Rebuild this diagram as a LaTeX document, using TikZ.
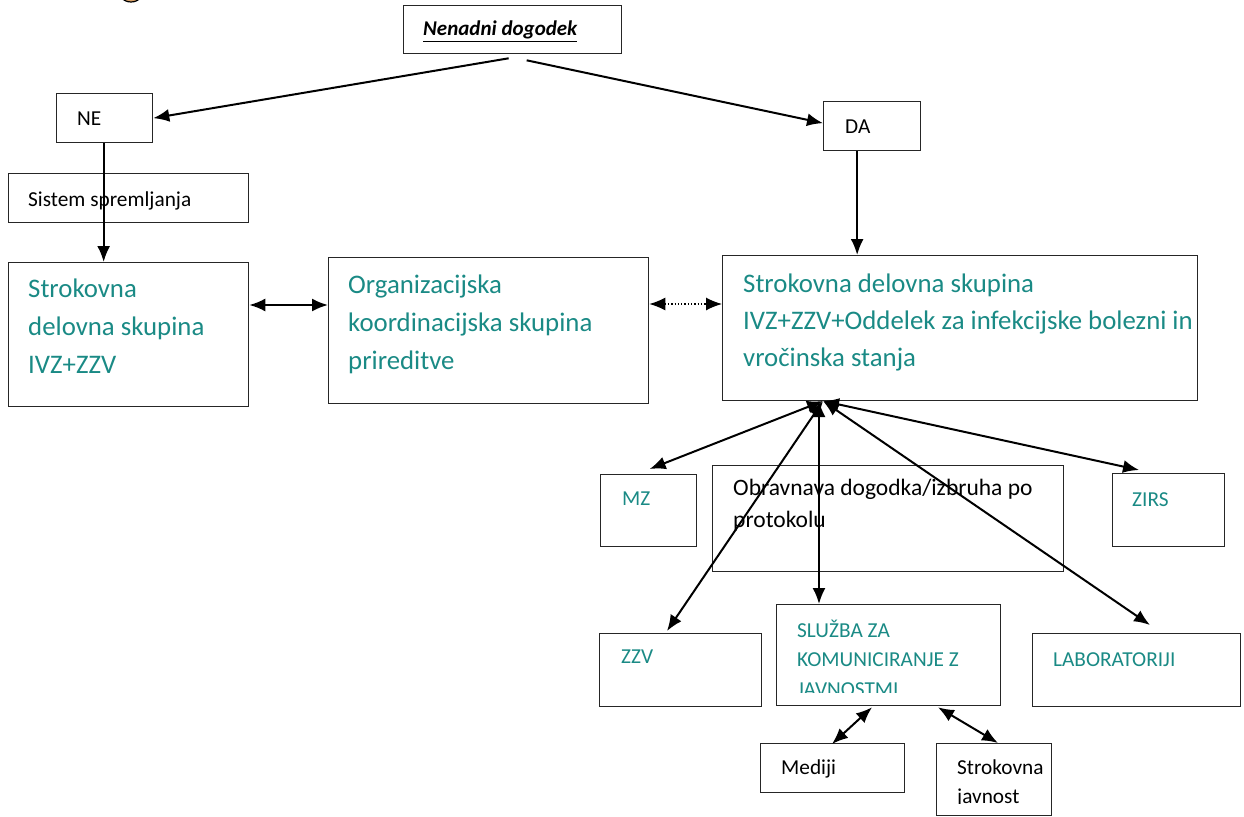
\documentclass[tikz,border=0pt]{standalone}
\usepackage{fontspec}
\setmainfont{Carlito}
\usepackage{tikz}
\usetikzlibrary{positioning}
\usetikzlibrary{arrows.meta}
\usetikzlibrary{calc}
\definecolor{teal1}{HTML}{1A8A85}
\definecolor{logo}{HTML}{D9A066}
\tikzset{
  box/.style={draw=black!85,line width=1.3pt,rectangle,anchor=north west,inner sep=0pt},
  arr/.style={line width=2pt,-{Latex[length=16pt,width=13pt]}},
  darr/.style={line width=2pt,{Latex[length=16pt,width=13pt]}-{Latex[length=16pt,width=13pt]}},
  txt/.style={anchor=base west,inner sep=0pt,font=\fontsize{21.3}{30}\selectfont},
  big/.style={anchor=base west,inner sep=0pt,text=teal1,font=\fontsize{26.8}{38}\selectfont},
}
\begin{document}
\begin{tikzpicture}[x=1pt,y=-1pt]
\useasboundingbox (0,0) rectangle (1244,816);
% logo sliver at the top
\begin{scope}
\clip (0,0) rectangle (1244,816);
\draw[fill=logo,line width=1.2pt] (131,-13) ellipse (14 and 15);
\end{scope}
% boxes
\node[box,minimum width=218pt,minimum height=48pt] (nen) at (403,5) {};
\node[box,minimum width=96pt,minimum height=49pt] (ne) at (56,93) {};
\node[box,minimum width=97pt,minimum height=49pt] (da) at (823,101) {};
\node[box,minimum width=240pt,minimum height=49pt] (sis) at (8,173) {};
\node[box,minimum width=240pt,minimum height=144pt] (sdl) at (8,262) {};
\node[box,minimum width=320pt,minimum height=146pt] (org) at (328,257) {};
\node[box,minimum width=475pt,minimum height=145pt] (sdr) at (722,255) {};
\node[box,minimum width=96pt,minimum height=72pt] (mz) at (600,474) {};
\node[box,minimum width=351pt,minimum height=106pt] (obr) at (712,465) {};
\node[box,minimum width=112pt,minimum height=73pt] (zirs) at (1112,473) {};
\node[box,minimum width=162pt,minimum height=73pt] (zzv) at (599,633) {};
\node[box,minimum width=224pt,minimum height=101pt] (sluz) at (776,604) {};
\node[box,minimum width=208pt,minimum height=73pt] (lab) at (1032,633) {};
\node[box,minimum width=144pt,minimum height=49pt] (med) at (760,743) {};
\node[box,minimum width=115pt,minimum height=72pt] (sjav) at (936,743) {};
% texts (base of a multi-line node = last line)
\node[txt,font=\fontsize{21}{30}\selectfont\bfseries\itshape] (nenT) at (423,36) {\underline{Nenadni dogodek}};
\node[txt] (neT) at (77,125) {NE};
\node[txt] (daT) at (845,133) {DA};
\node[txt] (sisT) at (28,206) {Sistem spremljanja};
\node[big,align=left] (sdlT) at (28,373) {Strokovna\\delovna skupina\\IVZ+ZZV};
\node[big,align=left] (orgT) at (348,369) {Organizacijska\\koordinacijska skupina\\prireditve};
\node[big,align=left,font=\fontsize{26.8}{37}\selectfont] (sdrT) at (743,366) {Strokovna delovna skupina\\IVZ+ZZV+Oddelek za infekcijske bolezni in\\vročinska stanja};
\node[txt,text=teal1] (mzT) at (622,505) {MZ};
\node[txt,align=left,font=\fontsize{23.5}{32}\selectfont] (obrT) at (733,527) {Obravnava dogodka/izbruha po\\protokolu};
\node[txt,text=teal1] (zirsT) at (1132,506) {ZIRS};
\node[txt,text=teal1] (zzvT) at (621,663) {ZZV};
\begin{scope}
\clip (776,604) rectangle (1000,692);
\node[txt,text=teal1,align=left,font=\fontsize{21.3}{29.5}\selectfont] (sluzT) at (797,696) {SLUŽBA ZA\\KOMUNICIRANJE Z\\JAVNOSTMI};
\end{scope}
\node[txt,text=teal1] (labT) at (1053,666) {LABORATORIJI};
\node[txt] (medT) at (781,774) {Mediji};
\begin{scope}
\clip (936,743) rectangle (1051,803);
\node[txt,align=left,font=\fontsize{21.3}{29}\selectfont] (sjavT) at (957,803) {Strokovna\\javnost};
\end{scope}
% connectors
\coordinate (hub) at (823,401);
\draw[arr] ($(nen.south)+(-4,4)$) -- (ne.east);
\draw[arr] ($(nen.south)+(14,6)$) -- ($(da.west)+(0,-3)$);
\draw[arr] ($(ne.south)+(-1,0)$) -- ($(sdl.north)+(-25,0)$);
\draw[arr] ($(da.south)+(-15,0)$) -- ($(sdr.north)+(-103,0)$);
\draw[darr] (sdl.east |- 0,305) -- (org.west |- 0,305);
\draw[darr,line width=1.3pt,dotted] (org.east |- 0,304) -- (sdr.west |- 0,304);
\draw[darr] (hub) -- ($(mz.north)+(1,-5)$);
\draw[darr] (hub) -- ($(zirs.north west)+(27,-3)$);
\draw[darr] (hub) -- ($(zzv.north west)+(68,-2)$);
\draw[darr] (hub -| 819,0) -- (sluz.north -| 819,0);
\draw[darr] (hub) -- ($(lab.north west)+(118,-8)$);
\draw[darr] ($(sluz.south west)+(96,1)$) -- ($(med.north west)+(72,1)$);
\draw[darr] ($(sluz.south west)+(162,1)$) -- ($(sjav.north west)+(62,0)$);
\end{tikzpicture}
\end{document}
